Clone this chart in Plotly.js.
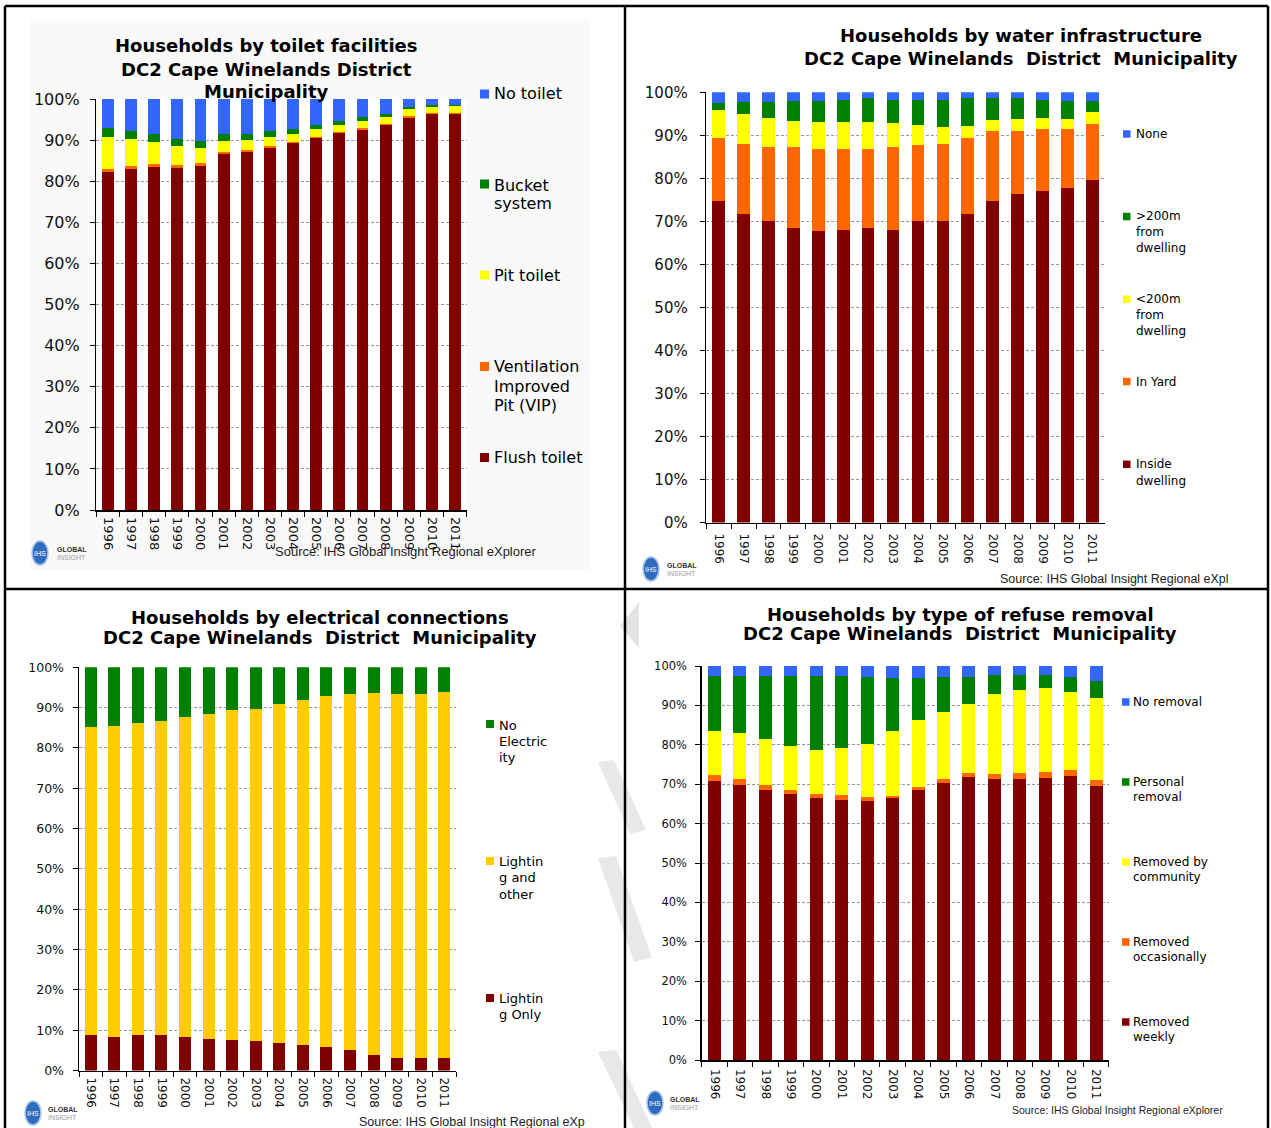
<!DOCTYPE html>
<html>
<head>
<meta charset="utf-8">
<script src="https://cdn.plot.ly/plotly-3.0.1.min.js"></script>
<style>html,body{margin:0;padding:0;background:#fff;}#chart{width:1271px;height:1128px;}</style>
</head>
<body>
<div id="chart"></div>
<script>
// ---------- DATA ----------
const years = ['1996','1997','1998','1999','2000','2001','2002','2003','2004','2005','2006','2007','2008','2009','2010','2011'];

// Panel 1: Households by toilet facilities (%)
const toiletFlush  = [82.3, 82.9, 83.5, 83.3, 83.7, 86.7, 87.1, 88.0, 89.2, 90.5, 91.7, 92.5, 93.6, 95.5, 96.3, 96.3];
const toiletVIP    = [0.6, 0.8, 0.8, 0.7, 0.7, 0.5, 0.5, 0.5, 0.3, 0.3, 0.3, 0.4, 0.3, 0.4, 0.4, 0.4];
const toiletPit    = [7.9, 6.5, 5.2, 4.5, 3.6, 2.6, 2.4, 2.3, 2.0, 1.8, 1.7, 1.7, 1.8, 1.7, 1.4, 1.6];
const toiletBucket = [2.2, 2.1, 2.0, 1.8, 1.8, 1.6, 1.4, 1.4, 1.3, 1.1, 0.9, 0.9, 0.7, 0.5, 0.4, 0.2];
const toiletNone   = [7.0, 7.7, 8.5, 9.7, 10.2, 8.6, 8.6, 7.8, 7.2, 6.3, 5.4, 4.5, 3.6, 1.9, 1.5, 1.5];

// Panel 2: Households by water infrastructure (%)
const waterInside = [74.7, 71.8, 70.1, 68.4, 67.8, 68.1, 68.4, 68.1, 70.0, 70.1, 71.8, 74.7, 76.3, 77.1, 77.7, 79.5];
const waterYard   = [14.6, 16.1, 17.1, 18.8, 19.0, 18.7, 18.4, 19.1, 17.7, 17.8, 17.5, 16.4, 14.8, 14.3, 13.7, 13.1];
const waterLt200  = [6.6, 7.0, 6.8, 6.2, 6.3, 6.3, 6.3, 5.6, 4.8, 4.0, 2.9, 2.4, 2.7, 2.7, 2.4, 2.9];
const waterGt200  = [1.5, 2.8, 3.7, 4.6, 4.9, 5.1, 5.5, 5.4, 5.7, 6.3, 6.4, 5.1, 4.8, 4.1, 4.2, 2.5];
const waterNone   = [2.6, 2.3, 2.3, 2.0, 2.0, 1.8, 1.4, 1.8, 1.8, 1.8, 1.4, 1.4, 1.4, 1.8, 2.0, 2.0];

// Panel 3: Households by electrical connections (%)
const elecLightOnly  = [8.8, 8.4, 8.8, 8.8, 8.4, 7.9, 7.6, 7.3, 6.7, 6.4, 5.8, 5.0, 3.8, 3.2, 3.2, 3.2];
const elecLightOther = [76.5, 77.1, 77.3, 77.9, 79.2, 80.5, 81.7, 82.3, 84.1, 85.5, 87.0, 88.3, 89.8, 90.1, 90.1, 90.7];
const elecNone       = [14.7, 14.5, 13.9, 13.3, 12.4, 11.6, 10.7, 10.4, 9.2, 8.1, 7.2, 6.7, 6.4, 6.7, 6.7, 6.1];

// Panel 4: Households by type of refuse removal (%)
const refWeekly     = [70.8, 69.8, 68.6, 67.5, 66.4, 66.1, 65.8, 66.4, 68.6, 70.4, 71.8, 71.3, 71.3, 71.5, 72.0, 69.5];
const refOccasional = [1.5, 1.5, 1.1, 1.0, 1.1, 1.1, 0.9, 0.7, 0.8, 1.0, 1.0, 1.2, 1.6, 1.6, 1.7, 1.5];
const refCommunity  = [11.2, 11.7, 11.9, 11.1, 11.3, 12.1, 13.6, 16.4, 17.0, 16.8, 17.6, 20.5, 21.1, 21.2, 19.8, 20.8];
const refPersonal   = [14.0, 14.5, 15.9, 17.9, 18.7, 18.2, 16.9, 13.5, 10.6, 9.0, 6.8, 4.7, 3.7, 3.4, 3.7, 4.3];
const refNone       = [2.5, 2.5, 2.5, 2.5, 2.5, 2.5, 2.8, 3.0, 3.0, 2.8, 2.8, 2.3, 2.3, 2.3, 2.8, 3.9];

const titles = {
  p1: ['Households by toilet facilities', 'DC2 Cape Winelands District', 'Municipality'],
  p2: ['Households by water infrastructure', 'DC2 Cape Winelands  District  Municipality'],
  p3: ['Households by electrical connections', 'DC2 Cape Winelands  District  Municipality'],
  p4: ['Households by type of refuse removal', 'DC2 Cape Winelands  District  Municipality']
};
const sourceText = 'Source: IHS Global Insight Regional eXplorer';

// ---------- LAYOUT HELPERS ----------
const W = 1271, H = 1128;
const X = v => v / W;
const Y = v => 1 - v / H;
const C = {blue:'#3366FF', green:'#008000', yellow:'#FFFF00', gold:'#FFCC00', orange:'#FF6600', maroon:'#800000'};
const DJ = 'DejaVu Sans, Verdana, sans-serif';
const AR = 'Liberation Sans, Arial, sans-serif';

function bar(name, y, color, xa, ya) {
  return {type:'bar', name:name, x:years, y:y, xaxis:xa, yaxis:ya,
    marker:{color:color, line:{width:0}}, showlegend:false,
    hovertemplate:name+' %{x}: %{y:.1f}%<extra></extra>'};
}

const traces = [
  bar('Flush toilet', toiletFlush, C.maroon, 'x', 'y'),
  bar('Ventilation Improved Pit (VIP)', toiletVIP, C.orange, 'x', 'y'),
  bar('Pit toilet', toiletPit, C.yellow, 'x', 'y'),
  bar('Bucket system', toiletBucket, C.green, 'x', 'y'),
  bar('No toilet', toiletNone, C.blue, 'x', 'y'),

  bar('Inside dwelling', waterInside, C.maroon, 'x2', 'y2'),
  bar('In Yard', waterYard, C.orange, 'x2', 'y2'),
  bar('<200m from dwelling', waterLt200, C.yellow, 'x2', 'y2'),
  bar('>200m from dwelling', waterGt200, C.green, 'x2', 'y2'),
  bar('None', waterNone, C.blue, 'x2', 'y2'),

  bar('Lighting Only', elecLightOnly, C.maroon, 'x3', 'y3'),
  bar('Lighting and other', elecLightOther, C.gold, 'x3', 'y3'),
  bar('No Electricity', elecNone, C.green, 'x3', 'y3'),

  bar('Removed weekly', refWeekly, C.maroon, 'x4', 'y4'),
  bar('Removed occasionally', refOccasional, C.orange, 'x4', 'y4'),
  bar('Removed by community', refCommunity, C.yellow, 'x4', 'y4'),
  bar('Personal removal', refPersonal, C.green, 'x4', 'y4'),
  bar('No removal', refNone, C.blue, 'x4', 'y4')
];

function xAxis(x0, x1, yAnchor, fontFam, fontSize, standoff) {
  return {domain:[X(x0), X(x1)], anchor:yAnchor, type:'category', tickangle:90,
    ticks:'outside', tickson:'boundaries', ticklen:5, tickcolor:'#000', tickwidth:1,
    showline:true, linecolor:'#000', linewidth:1.5, showgrid:false, zeroline:false,
    tickfont:{family:fontFam, size:fontSize, color:'#111'}, ticklabelstandoff:standoff,
    fixedrange:true};
}
function yAxis(yTop, yBot, xAnchor, fontSize, standoff) {
  return {domain:[Y(yBot), Y(yTop)], anchor:xAnchor, range:[0,100], dtick:10, ticksuffix:'%',
    ticks:'outside', ticklen:5, tickcolor:'#000', tickwidth:1,
    showline:true, linecolor:'#000', linewidth:1.5,
    showgrid:true, gridcolor:'#9a9a9a', gridwidth:1, griddash:'3px,2px', zeroline:false,
    tickfont:{family:DJ, size:fontSize, color:'#111'}, ticklabelstandoff:standoff,
    fixedrange:true};
}

const annotations = [];
function txt(text, x, y, size, opts) {
  opts = opts || {};
  annotations.push({text:text, x:X(x), y:Y(y), xref:'paper', yref:'paper', showarrow:false,
    xanchor:opts.xanchor || 'left', yanchor:'middle',
    font:{family:opts.family || DJ, size:size, color:opts.color || '#000'}});
}
const shapes = [];
function rect(x0, y0, x1, y1, fill, layer) {
  shapes.push({type:'rect', xref:'paper', yref:'paper', x0:X(x0), x1:X(x1), y0:Y(y1), y1:Y(y0),
    fillcolor:fill, line:{width:0}, layer:layer || 'below'});
}
function line(x0, y0, x1, y1, w) {
  shapes.push({type:'line', xref:'paper', yref:'paper', x0:X(x0), x1:X(x1), y0:Y(y0), y1:Y(y1),
    line:{color:'#000', width:w}, layer:'above'});
}
function poly(pts, fill) {
  const d = pts.map((p, i) => (i ? 'L' : 'M') + X(p[0]).toFixed(5) + ',' + Y(p[1]).toFixed(5)).join(' ') + ' Z';
  shapes.push({type:'path', xref:'paper', yref:'paper', path:d, fillcolor:fill, line:{width:0}, layer:'below'});
}
function legendItem(color, sx, sy, size, lines, tx, ty0, lh, fsize) {
  rect(sx, sy - size/2, sx + size, sy + size/2, color, 'above');
  lines.forEach((l, i) => txt(l, tx, ty0 + i*lh, fsize));
}
function logo(cx, cy, tx) {
  shapes.push({type:'circle', xref:'paper', yref:'paper', x0:X(cx-8), x1:X(cx+8), y0:Y(cy+12), y1:Y(cy-12),
    fillcolor:'#2f6cc0', line:{color:'#a9c4ea', width:1.5}, layer:'above'});
  txt('IHS', cx, cy, 7, {xanchor:'center', color:'#ffffff', family:AR});
  txt('<b>GLOBAL</b>', tx, cy - 4, 7, {color:'#333', family:AR});
  txt('INSIGHT', tx, cy + 4, 7, {color:'#999', family:AR});
}

// backgrounds
rect(30, 20, 590, 570, '#f9f9f9');
rect(97, 99, 467, 510, '#ffffff');
// watermark chevrons
poly([[639,602],[639,648],[620,626]], '#e3e3e3');
poly([[598,762],[614,760],[646,830],[630,834]], '#e8e8e8');
poly([[598,858],[616,856],[652,958],[634,962]], '#e8e8e8');
poly([[598,1052],[616,1050],[652,1128],[634,1128]], '#e8e8e8');

// borders
line(5, 6, 1268, 6, 2.5);
line(5, 6, 5, 1128, 2.5);
line(625, 6, 625, 1128, 2.5);
line(1268, 6, 1268, 1128, 2.5);
line(5, 589, 1268, 589, 2.5);

// ---------- PANEL 1 TEXT ----------
titles.p1.forEach((t, i) => txt('<b>' + t + '</b>', 266, 46 + i*23, 18, {xanchor:'center'}));
legendItem(C.blue,   480, 94,  9, ['No toilet'], 492, 93.5, 19.5, 16);
legendItem(C.green,  480, 184, 9, ['Bucket', 'system'], 492, 185, 18.5, 16);
legendItem(C.yellow, 480, 275, 9, ['Pit toilet'], 492, 275, 19.5, 16);
legendItem(C.orange, 480, 366.5, 9, ['Ventilation', 'Improved', 'Pit (VIP)'], 492, 366.5, 19.5, 16);
legendItem(C.maroon, 480, 457.5, 9, ['Flush toilet'], 492, 457, 19.5, 16);
txt(sourceText, 273, 552, 13, {family:AR, color:'#222'});
logo(40, 553, 55);

// ---------- PANEL 2 TEXT ----------
titles.p2.forEach((t, i) => txt('<b>' + t + '</b>', 1021, 36 + i*22, 18, {xanchor:'center'}));
legendItem(C.blue,   1123, 134,   7.5, ['None'], 1134, 134, 16.5, 12);
legendItem(C.green,  1123, 216.5, 7.5, ['>200m', 'from', 'dwelling'], 1134, 216, 16, 12);
legendItem(C.yellow, 1123, 299.3, 7.5, ['<200m', 'from', 'dwelling'], 1134, 299, 16, 12);
legendItem(C.orange, 1123, 381.5, 7.5, ['In Yard'], 1134, 381.5, 16, 12);
legendItem(C.maroon, 1123, 464.3, 7.5, ['Inside', 'dwelling'], 1134, 464, 17, 12);
txt('Source: IHS Global Insight Regional eXpl', 998, 579, 12.5, {family:AR, color:'#222'});
logo(651, 569, 665);

// ---------- PANEL 3 TEXT ----------
titles.p3.forEach((t, i) => txt('<b>' + t + '</b>', 320, 617 + i*20, 18, {xanchor:'center'}));
legendItem(C.green,  486, 724, 8, ['No', 'Electric', 'ity'], 497, 725, 16.3, 13);
legendItem(C.gold,   486, 861, 8, ['Lightin', 'g and', 'other'], 497, 861, 16.5, 13);
legendItem(C.maroon, 486, 998, 8, ['Lightin', 'g Only'], 497, 998, 16.5, 13);
txt('Source: IHS Global Insight Regional eXp', 357, 1122, 12.5, {family:AR, color:'#222'});
logo(33, 1113, 46);

// ---------- PANEL 4 TEXT ----------
titles.p4.forEach((t, i) => txt('<b>' + t + '</b>', 960, 614 + i*19, 18, {xanchor:'center'}));
legendItem(C.blue,   1122, 702, 7.5, ['No removal'], 1131, 702, 15, 12);
legendItem(C.green,  1122, 782, 7.5, ['Personal', 'removal'], 1131, 782, 15, 12);
legendItem(C.yellow, 1122, 862, 7.5, ['Removed by', 'community'], 1131, 862, 15, 12);
legendItem(C.orange, 1122, 942, 7.5, ['Removed', 'occasionally'], 1131, 942, 15, 12);
legendItem(C.maroon, 1122, 1022, 7.5, ['Removed', 'weekly'], 1131, 1022, 15, 12);
txt(sourceText, 1010, 1110, 10.5, {family:AR, color:'#222'});
logo(655, 1103, 668);

const layout = {
  width:W, height:H, margin:{l:0, r:0, t:0, b:0},
  paper_bgcolor:'#ffffff', plot_bgcolor:'rgba(0,0,0,0)',
  barmode:'stack', bargap:0.49, showlegend:false,
  font:{family:DJ, color:'#000'},
  xaxis:  xAxis(96.4, 466.6, 'y', DJ, 13, 3),
  yaxis:  yAxis(99, 510, 'x', 16, 7),
  xaxis2: xAxis(706.2, 1104.8, 'y2', DJ, 12, 7),
  yaxis2: yAxis(92.3, 522.5, 'x2', 15, 9),
  xaxis3: xAxis(79, 456, 'y3', DJ, 12, 3),
  yaxis3: yAxis(667.3, 1070.5, 'x3', 12.5, 6),
  xaxis4: xAxis(701.8, 1108.9, 'y4', DJ, 12, 5),
  yaxis4: yAxis(666, 1060, 'x4', 11.5, 6),
  annotations:annotations, shapes:shapes
};

Plotly.newPlot('chart', traces, layout, {displayModeBar:false, staticPlot:true});
</script>
</body>
</html>
